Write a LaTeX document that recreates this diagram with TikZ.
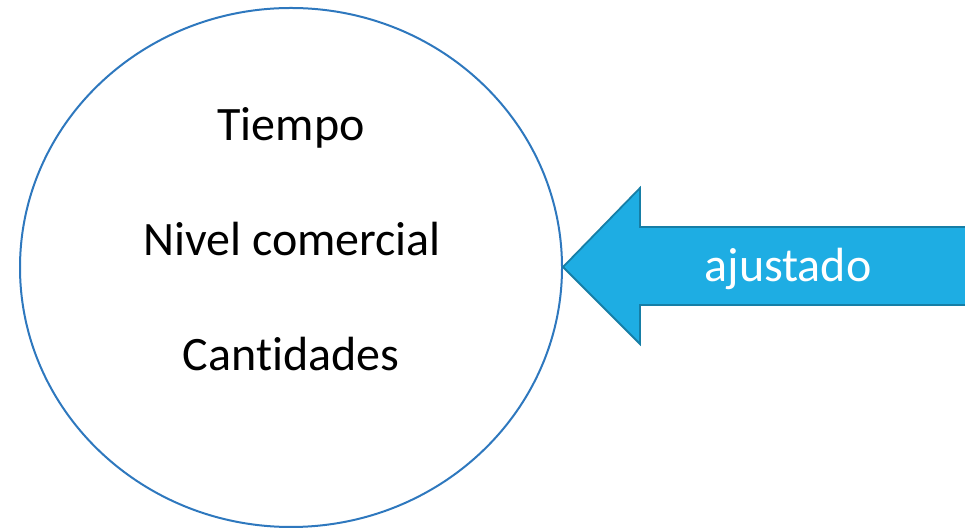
\documentclass[tikz,border=0pt]{standalone}
\usepackage{fontspec}
\setmainfont{Carlito}[Ligatures={NoCommon}]
\usetikzlibrary{positioning}
\definecolor{circblue}{RGB}{46,120,190}
\definecolor{arrfill}{RGB}{30,173,227}
\definecolor{arrdraw}{RGB}{22,126,166}

\begin{document}
\begin{tikzpicture}[x=1pt,y=1pt]
        \tikzset{circ/.style = {draw=circblue,line width=2pt}}
        \tikzset{arrowbody/.style = {fill=arrfill,draw=arrdraw,line width=1.8pt,line join=miter}}
        \tikzset{label/.style = {anchor=base,font=\fontsize{48}{56}\selectfont}}

        \useasboundingbox (0,0) rectangle (965,529);

        \draw[circ] (291,261.5) ellipse [x radius=271,y radius=259.5];
        \node[label] (t0) at (291,388) {Tiempo};
        \node[label] (t1) at (292,273.5) {Nivel comercial};
        \node[label] (t2) at (291,158) {Cantidades};

        \draw[arrowbody] (563,262) -- (640,341) -- (640,302) -- (966,302) -- (966,224) -- (640,224) -- (640,185) -- cycle;
        \node[label,text=white] (adj) at (788,247) {ajustado};
    \end{tikzpicture}
\end{document}
